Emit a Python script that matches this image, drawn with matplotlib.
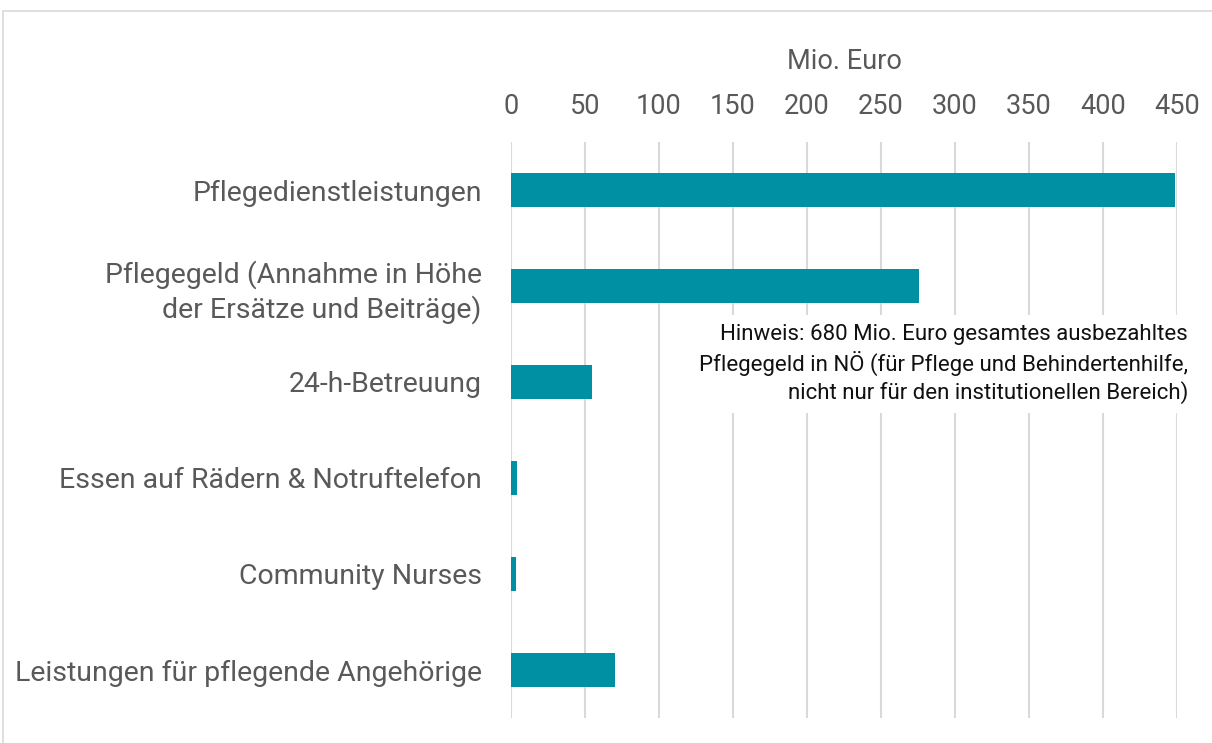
import matplotlib
matplotlib.use("Agg")
import matplotlib.pyplot as plt
from matplotlib.patches import Rectangle

categories = [
    "Pflegedienstleistungen",
    "Pflegegeld (Annahme in Höhe\nder Ersätze und Beiträge)",
    "24-h-Betreuung",
    "Essen auf Rädern & Notruftelefon",
    "Community Nurses",
    "Leistungen für pflegende Angehörige",
]
values = [448.5, 276, 55, 4, 3.5, 70]
xticks = [0, 50, 100, 150, 200, 250, 300, 350, 400, 450]
axis_title = "Mio. Euro"
note = ("Hinweis: 680 Mio. Euro gesamtes ausbezahltes\n"
        "Pflegegeld in NÖ (für Pflege und Behindertenhilfe,\n"
        "nicht nur für den institutionellen Bereich)")

plt.rcParams['font.family'] = ['Roboto', 'DejaVu Sans']

W, H = 1212, 743
fig = plt.figure(figsize=(W / 100, H / 100), dpi=100)
ax = fig.add_axes([511 / W, 1 - 718 / H, (1177 - 511) / W, (718 - 142) / H])

# outer frame
fig.patches.append(Rectangle((3 / W, -0.01), 1.0, 1 - 11 / H + 0.01, transform=fig.transFigure,
                             fill=False, edgecolor='#d9d9d9', linewidth=1.2))

y = list(range(len(categories)))
ax.barh(y, values, height=0.36, color='#0090A4', zorder=3)
ax.set_ylim(len(categories) - 0.5, -0.5)
ax.set_xlim(0, 450)
ax.set_xticks(xticks)
ax.set_yticks(y)
ax.set_yticklabels(categories, fontsize=20.5, color='#595959', linespacing=1.25)
ax.xaxis.tick_top()
ax.tick_params(axis='x', labelsize=19.5, labelcolor='#595959', length=0, pad=16)
ax.tick_params(axis='y', length=0, pad=21)
for lbl in ax.get_yticklabels():
    lbl.set_horizontalalignment('right')
ax.grid(axis='x', color='#d9d9d9', linewidth=1.5, zorder=0)
for s in ax.spines.values():
    s.set_visible(False)
ax.xaxis.set_label_position('top')
ax.set_xlabel(axis_title, fontsize=19.5, color='#595959', labelpad=17)

ax.text(1188 / W, 1 - 364 / H, note, transform=fig.transFigure, ha='right', va='center',
        fontsize=16, color='#111111', linespacing=1.3, zorder=5,
        bbox=dict(facecolor='white', edgecolor='none', pad=6))

fig.savefig("out.png", dpi=100, facecolor='white')
